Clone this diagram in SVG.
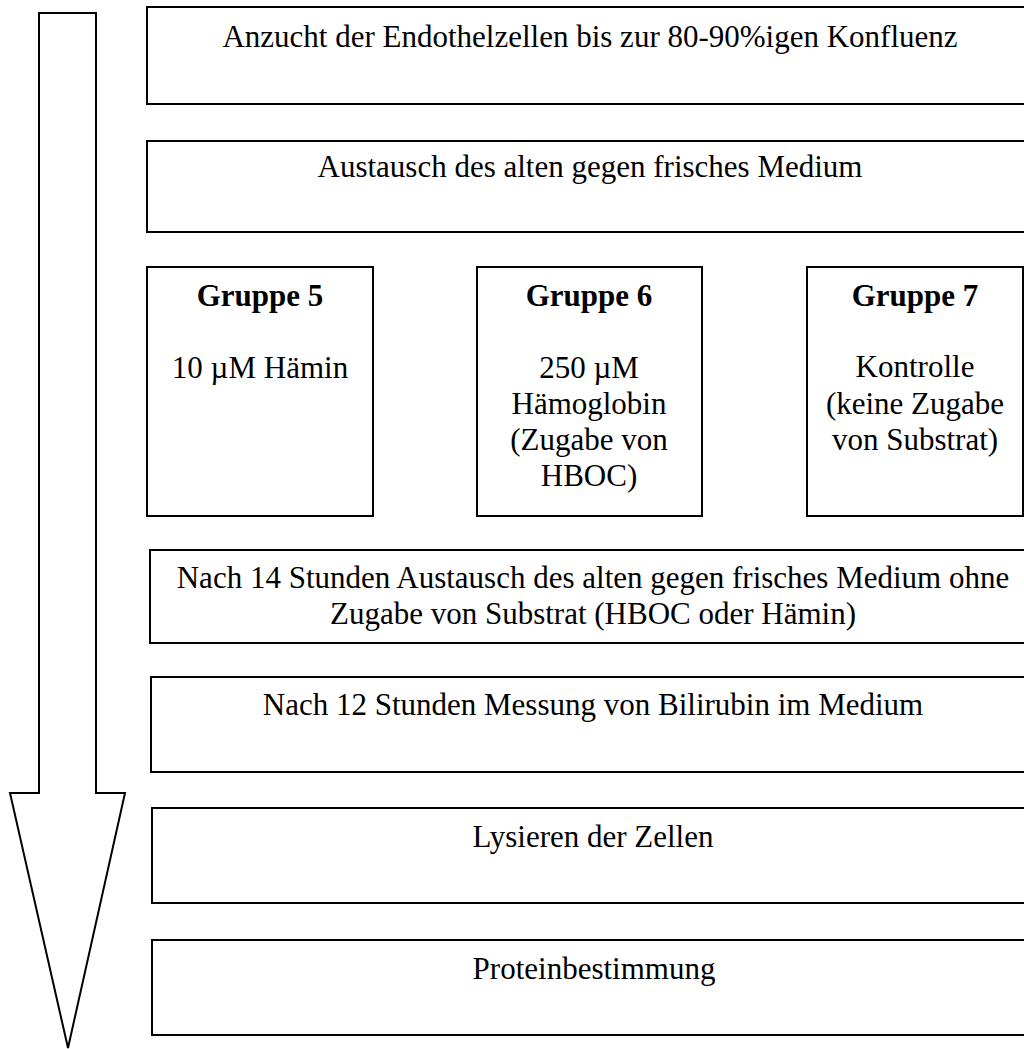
<svg xmlns="http://www.w3.org/2000/svg" width="1024" height="1049" viewBox="0 0 1024 1049">
<style>
.b{fill:#fff;stroke:#000;stroke-width:2}
.t{font-family:"Liberation Serif","Times New Roman",serif;font-size:31px;fill:#000;text-anchor:middle}
.h{font-weight:bold}
</style>
<rect width="1024" height="1049" fill="#fff"/>
<g id="connectors">
<path class="b" d="M39,13 H96 V793 H125 L68,1048 L10,793 H39 Z" stroke-width="1.6"/>
</g>
<g id="n1"><rect class="b" x="147" y="7" width="886" height="97"/><text class="t" x="590" y="47">Anzucht der Endothelzellen bis zur 80-90%igen Konfluenz</text></g>
<g id="n2"><rect class="b" x="147" y="141" width="886" height="91"/><text class="t" x="590" y="177">Austausch des alten gegen frisches Medium</text></g>
<g id="g5"><rect class="b" x="147" y="267" width="226" height="249"/><text class="t h" x="260" y="306">Gruppe 5</text><text class="t" x="260" y="378">10 µM Hämin</text></g>
<g id="g6"><rect class="b" x="477" y="267" width="225" height="249"/><text class="t h" x="589" y="306">Gruppe 6</text><text class="t" x="589" y="378">250 µM</text><text class="t" x="589" y="414">Hämoglobin</text><text class="t" x="589" y="450">(Zugabe von</text><text class="t" x="589" y="486">HBOC)</text></g>
<g id="g7"><rect class="b" x="807" y="267" width="216" height="249"/><text class="t h" x="915" y="306">Gruppe 7</text><text class="t" x="915" y="377">Kontrolle</text><text class="t" x="915" y="414">(keine Zugabe</text><text class="t" x="915" y="450">von Substrat)</text></g>
<g id="n3"><rect class="b" x="150" y="550" width="886" height="93"/><text class="t" x="593" y="588">Nach 14 Stunden Austausch des alten gegen frisches Medium ohne</text><text class="t" x="593" y="624">Zugabe von Substrat (HBOC oder Hämin)</text></g>
<g id="n4"><rect class="b" x="151" y="677" width="886" height="95"/><text class="t" x="593" y="715">Nach 12 Stunden Messung von Bilirubin im Medium</text></g>
<g id="n5"><rect class="b" x="152" y="808" width="886" height="95"/><text class="t" x="593" y="847">Lysieren der Zellen</text></g>
<g id="n6"><rect class="b" x="152" y="940" width="886" height="95"/><text class="t" x="594" y="979">Proteinbestimmung</text></g>
</svg>
